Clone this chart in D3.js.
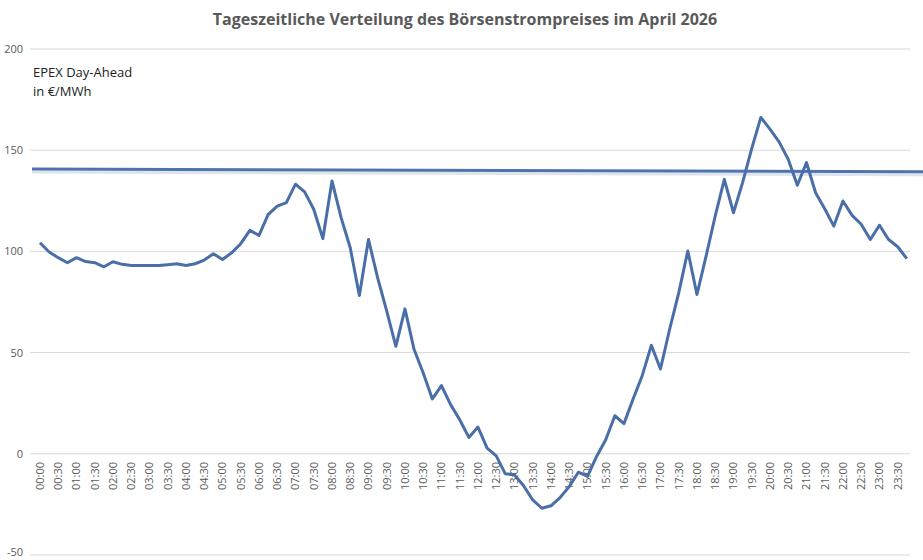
<!DOCTYPE html>
<html><head><meta charset="utf-8">
<script src="https://cdn.jsdelivr.net/npm/d3@7"></script>
<style>body{margin:0;background:#fff}text{font-family:"Open Sans","Liberation Sans",sans-serif}</style>
</head><body><div id="chart"></div>
<script>
// EPEX Day-Ahead, Viertelstundenwerte in €/MWh
const prices = [104.3,99.7,96.9,94.4,96.9,95,94.4,92.4,94.9,93.6,93,93,93,93,93.4,93.9,
  93,93.9,95.7,98.8,96,99.3,103.8,110.4,107.9,118.2,122.4,124.1,133.2,129.4,120.8,106.3,
  134.8,116.7,101.8,78.2,105.9,87,70.5,53.1,71.6,51.5,39.9,27.1,33.7,24.3,16.8,8.1,
  13.2,2.8,-1,-9.9,-10.4,-15.8,-22.8,-26.9,-25.7,-21.6,-16.2,-9.1,-11.2,-1.3,6.9,18.8,
  14.9,27.1,38.6,53.6,41.9,61.4,79.5,100.2,78.7,97.7,117.5,135.6,119.1,134,150.8,166.2,
  160.4,154.1,145.5,132.7,143.9,129,121.1,112.5,124.9,117.8,113.4,105.9,112.9,105.9,102.3,96.4];
const trendStart = 140.7, trendEnd = 139.4;
const yTicks = [-50, 0, 50, 100, 150, 200];
const times = prices.map((d, i) => d3.format("02")(Math.floor(i / 4)) + ":" + d3.format("02")((i % 4) * 15));
const tickLabels = times.filter((t, i) => i % 2 === 0);

const W = 923, H = 560;
const svg = d3.select("#chart").append("svg").attr("width", W).attr("height", H);

const x = d3.scaleLinear().domain([0, 94]).range([40, 897.7]);
const y = d3.scaleLinear().domain([-50, 200]).range([555, 49]);

// gridlines + y labels
svg.append("g").selectAll("line").data(yTicks).join("line")
  .attr("x1", 30).attr("x2", 910).attr("y1", d => y(d)).attr("y2", d => y(d))
  .attr("stroke", "#d9d9d9").attr("stroke-width", 1);
svg.append("g").selectAll("text").data(yTicks).join("text")
  .attr("x", 23).attr("y", d => Math.min(y(d) + 4, 556)).attr("text-anchor", "end")
  .attr("font-size", 11).attr("fill", "#595959").text(d => d);

// x labels
svg.append("g").selectAll("text").data(tickLabels).join("text")
  .attr("transform", (d, i) => `translate(${x(i * 2) + 4},462) rotate(-90)`)
  .attr("text-anchor", "end").attr("font-size", 11).attr("fill", "#595959").text(d => d);

// trend line with shadow
const tx = d3.scaleLinear().domain([0, 1]).range([32, 923]);
svg.append("line").attr("x1", tx(0)).attr("x2", tx(1))
  .attr("y1", y(trendStart) + 3).attr("y2", y(trendEnd) + 3)
  .attr("stroke", "#c9d3e3").attr("stroke-width", 3).attr("opacity", 0.6);
svg.append("line").attr("x1", tx(0)).attr("x2", tx(1))
  .attr("y1", y(trendStart)).attr("y2", y(trendEnd))
  .attr("stroke", "#4f74ab").attr("stroke-width", 3);

// price line
svg.append("path").datum(prices)
  .attr("d", d3.line().x((d, i) => x(i)).y(d => y(d)))
  .attr("fill", "none").attr("stroke", "#4a6ea8").attr("stroke-width", 3)
  .attr("stroke-linejoin", "round");

// title and annotation
svg.append("text").attr("x", 465).attr("y", 25).attr("text-anchor", "middle")
  .attr("font-size", 16).attr("font-weight", "bold").attr("fill", "#595959")
  .text("Tageszeitliche Verteilung des Börsenstrompreises im April 2026");
svg.append("text").attr("x", 33).attr("y", 77).attr("font-size", 13).attr("fill", "#222").text("EPEX Day-Ahead");
svg.append("text").attr("x", 33).attr("y", 96).attr("font-size", 13).attr("fill", "#222").text("in €/MWh");
</script></body></html>
